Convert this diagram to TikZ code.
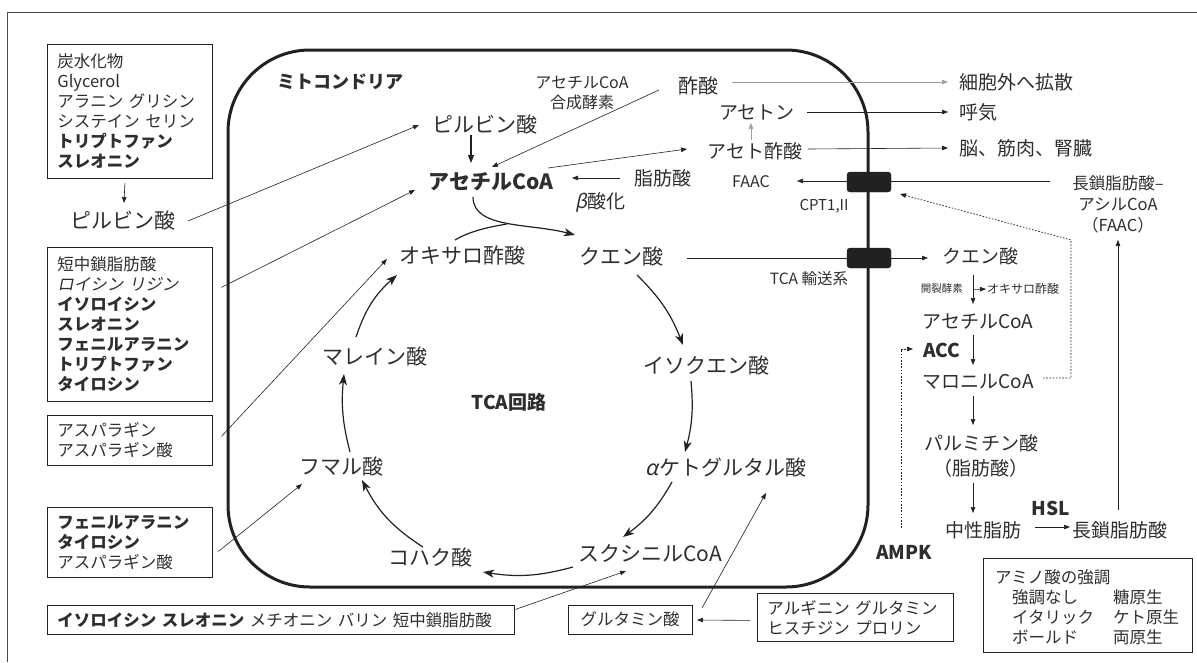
\documentclass[tikz,border=0pt]{standalone}
\usepackage{fontspec}
\setmainfont{Noto Sans CJK JP}[ItalicFont={Noto Sans CJK JP}, ItalicFeatures={FakeSlant=0.2}]
\usetikzlibrary{arrows.meta}
\definecolor{tx}{gray}{0.18}
\definecolor{ln}{gray}{0.13}
\definecolor{lg}{gray}{0.62}
\newcommand{\myfs}[2]{\fontsize{#1}{#2}\selectfont}
\tikzset{
  lbl/.style={inner sep=0pt, text=tx},
  big/.style={lbl, font=\myfs{21}{25}},
  mid/.style={lbl, font=\myfs{19}{23}},
  bmid/.style={lbl, font=\myfs{19}{23}\bfseries},
  sml/.style={lbl, font=\myfs{16}{20}},
  boxtext/.style={draw=ln, line width=0.8pt, text=tx, align=left, inner xsep=10pt, inner ysep=0pt, font=\myfs{16.5}{20}},
  thinarr/.style={draw=ln, line width=0.6pt, -{Triangle[length=6pt,width=4.5pt]}},
  medarr/.style={draw=ln, line width=1.1pt, -{Triangle[length=8pt,width=6pt]}},
  plainline/.style={draw=ln, line width=0.6pt},
  cyc/.style={draw=ln, line width=1.2pt, -{Stealth[length=11pt,width=8pt,inset=3pt]}},
  dotline/.style={draw=ln, line width=0.7pt, dash pattern=on 1.6pt off 1.6pt},
  membrane/.style={draw=ln, line width=3pt, rounded corners=82pt},
  transporter/.style={fill=ln, draw=ln, rounded corners=3pt, minimum width=44pt, minimum height=20pt, inner sep=0pt}
}
\begin{document}
\begin{tikzpicture}[x=1pt,y=-1pt]
\useasboundingbox (0,0) rectangle (1197,662);
% frame
\draw[draw=black!70, line width=0.8pt] (7,662) -- (7,12) -- (1197,12);
% membrane
\draw[membrane] (228,50) rectangle (868,587);
\node[transporter] (t1) at (869,182) {};
\node[transporter] (t2) at (869,258) {};
\node[lbl, font=\myfs{18}{22}\bfseries, anchor=west] (mito) at (277,82) {ミトコンドリア};

% left boxes
\node[boxtext, text width=145pt, minimum height=134pt, anchor=north west] (b1) at (47,44)
  {炭水化物\\Glycerol\\アラニン グリシン\\システイン セリン\\\textbf{トリプトファン}\\\textbf{スレオニン}};
\node[big] (lpyr) at (123,220) {ピルビン酸};
\node[boxtext, text width=145pt, minimum height=154pt, anchor=north west] (b2) at (47,247)
  {短中鎖脂肪酸\\\textit{ロイシン リジン}\\\textbf{イソロイシン}\\\textbf{スレオニン}\\\textbf{フェニルアラニン}\\\textbf{トリプトファン}\\\textbf{タイロシン}};
\node[boxtext, text width=145pt, minimum height=50pt, anchor=north west] (b3) at (47,415)
  {アスパラギン\\アスパラギン酸};
\node[boxtext, text width=145pt, minimum height=70pt, anchor=north west] (b4) at (47,507)
  {\textbf{フェニルアラニン}\\\textbf{タイロシン}\\アスパラギン酸};
\node[boxtext, text width=447pt, minimum height=29pt, anchor=north west] (b5) at (47,605)
  {\textbf{イソロイシン スレオニン} メチオニン バリン 短中鎖脂肪酸};
\node[boxtext, align=center, inner xsep=0pt, minimum width=124pt, minimum height=29pt] (glu) at (630,619.5) {グルタミン酸};
\node[boxtext, text width=176pt, minimum height=48pt, anchor=north west] (arg) at (757,593)
  {アルギニン グルタミン\\ヒスチジン プロリン};

% legend
\node[draw=ln, line width=0.8pt, minimum width=209pt, minimum height=94pt, anchor=north west, inner sep=0pt] (leg) at (983,558) {};
\node[lbl, font=\myfs{16.5}{20}, anchor=west] (lg0) at (995,577) {アミノ酸の強調};
\node[lbl, font=\myfs{16.5}{20}, anchor=west] (lg1) at (1012,597) {強調なし};
\node[lbl, font=\myfs{16.5}{20}, anchor=west] (lg2) at (1012,617) {イタリック};
\node[lbl, font=\myfs{16.5}{20}, anchor=west] (lg3) at (1012,637) {ボールド};
\node[lbl, font=\myfs{16.5}{20}, anchor=west] (lg4) at (1113,597) {糖原生};
\node[lbl, font=\myfs{16.5}{20}, anchor=west] (lg5) at (1113,617) {ケト原生};
\node[lbl, font=\myfs{16.5}{20}, anchor=west] (lg6) at (1113,637) {両原生};

% top area
\node[big] (pyr) at (485,124) {ピルビン酸};
\node[lbl, font=\myfs{21}{25}\bfseries] (acoa) at (491,182) {アセチルCoA};
\node[sml, align=center] (acsyn) at (582,93) {アセチルCoA\\合成酵素};
\node[lbl, font=\myfs{20}{24}] (acetic) at (698,86) {酢酸};
\node[mid] (acetone) at (757,112) {アセトン};
\node[mid] (acetoac) at (755,151) {アセト酢酸};
\node[mid] (fa) at (663,178) {脂肪酸};
\node[mid] (beta) at (600,202) {\textit{β}酸化};
\node[sml] (faac) at (751,182) {FAAC};
\node[lbl, font=\myfs{15}{18}] (cpt) at (824,206) {CPT1,II};
\node[lbl, font=\myfs{15.5}{18}] (tcatr) at (809,279) {TCA 輸送系};
\node[mid, anchor=west] (ext) at (959,82) {細胞外へ拡散};
\node[mid, anchor=west] (breath) at (959,112) {呼気};
\node[mid, anchor=west] (brain) at (959,148) {脳、筋肉、腎臓};
\node[lbl, font=\myfs{16.5}{21}, align=center] (lcfaacyl) at (1118,204) {長鎖脂肪酸–\\アシルCoA\\（FAAC）};

% right column
\node[mid] (ocit) at (980,256) {クエン酸};
\node[lbl, font=\myfs{10.5}{12}, anchor=east] (cleave) at (963,289) {開裂酵素};
\node[lbl, font=\myfs{12}{14}, anchor=west] (soxa) at (987,289) {オキサロ酢酸};
\node[mid] (oacoa) at (978,322) {アセチルCoA};
\node[bmid] (acc) at (942,350) {ACC};
\node[mid] (malonyl) at (978,382) {マロニルCoA};
\node[mid] (palm) at (981,443) {パルミチン酸};
\node[mid] (palmfa) at (981,468) {（脂肪酸）};
\node[mid] (tg) at (983,530) {中性脂肪};
\node[bmid] (hsl) at (1051,508) {HSL};
\node[mid] (lcfa) at (1120,530) {長鎖脂肪酸};
\node[bmid] (ampk) at (904,552) {AMPK};

% TCA cycle
\node[big] (oxa) at (462,256) {オキサロ酢酸};
\node[big] (cit) at (621,256) {クエン酸};
\node[big] (iso) at (706,365) {イソクエン酸};
\node[big] (akg) at (726,467) {\textit{α}ケトグルタル酸};
\node[big] (suc) at (650,553) {スクシニルCoA};
\node[big] (koh) at (430,557) {コハク酸};
\node[big] (fum) at (341,466) {フマル酸};
\node[big] (mal) at (375,356) {マレイン酸};
\node[bmid] (tca) at (509,402) {TCA回路};

% cycle arrows
\draw[cyc] ([shift={(-19,-19)}]mal.center) to[bend left=15] ([shift={(-65,19)}]oxa.center);
\draw[cyc] ([shift={(9,-14)}]fum.center) to[bend left=10] ([shift={(-31,18)}]mal.center);
\draw[cyc] ([shift={(-7,-10)}]koh.center) to[bend left=15] ([shift={(21,14)}]fum.center);
\draw[cyc] ([shift={(-77,14)}]suc.center) to[bend left=12] ([shift={(53,15)}]koh.center);
\draw[cyc] ([shift={(-54,15)}]akg.center) to[bend left=12] ([shift={(-27,-16)}]suc.center);
\draw[cyc] ([shift={(-15,16)}]iso.center) to[bend left=10] ([shift={(-41,-15)}]akg.center);
\draw[cyc] ([shift={(16,19)}]cit.center) to[bend left=12] ([shift={(-23,-20)}]iso.center);
\coordinate (merge) at (507,224);
\draw[cyc] ([shift={(-18,15)}]acoa.center) .. controls +(0,32) and +(-45,-12) .. ([shift={(-46,-21)}]cit.center);
\draw[draw=ln, line width=1.2pt] ([shift={(-7,-16)}]oxa.center) .. controls +(15,-9) and +(-18,3) .. (merge);

% left arrows
\draw[thinarr] ([shift={(-5,4)}]b1.south) -- ([shift={(1,-17)}]lpyr.center);
\draw[thinarr] ([shift={(65,1)}]lpyr.center) -- ([shift={(-66,1)}]pyr.center);
\draw[thinarr] ([shift={(91.5,-37)}]b2.center) -- ([shift={(-76,8)}]acoa.center);
\draw[thinarr] ([shift={(91.5,-4)}]b3.center) -- ([shift={(-75,3)}]oxa.center);
\draw[thinarr] ([shift={(88.5,9)}]b4.center) -- ([shift={(-39,18)}]fum.center);
\draw[thinarr] ([shift={(234.5,-10.5)}]b5.center) -- ([shift={(-24,18)}]suc.center);
\draw[thinarr] ([shift={(72,-11.5)}]glu.center) -- ([shift={(40,26)}]akg.center);
\draw[thinarr] ([shift={(-105,3)}]arg.center) -- ([shift={(67,0.5)}]glu.center);

% top arrows
\draw[medarr] ([shift={(-14,11)}]pyr.center) -- ([shift={(-20,-19)}]acoa.center);
\draw[thinarr] ([shift={(-39,4)}]acetic.center) -- ([shift={(1,-15)}]acoa.center);
\draw[thinarr] ([shift={(57,-14)}]acoa.center) -- ([shift={(-68,-2)}]acetoac.center);
\draw[thinarr] ([shift={(-43,0)}]fa.center) -- ([shift={(81,-4)}]acoa.center);
\draw[thinarr, draw=lg] ([shift={(-4,-11)}]acetoac.center) -- ([shift={(-6,11)}]acetone.center);
\draw[thinarr, draw=lg] ([shift={(34,-4)}]acetic.center) -- ([shift={(-11,0)}]ext.west);
\draw[thinarr] ([shift={(50,0)}]acetone.center) -- ([shift={(-11,0)}]breath.west);
\draw[thinarr] ([shift={(53,-2)}]acetoac.center) -- ([shift={(-11,0)}]brain.west);
\draw[thinarr] ([shift={(-68,-23)}]lcfaacyl.center) -- ([shift={(46,-1)}]faac.center);
\draw[thinarr] ([shift={(66,2)}]cit.center) -- ([shift={(-52,2)}]ocit.center);

% right column arrows
\draw[thinarr] ([shift={(-7,19)}]ocit.center) -- coordinate[pos=0.5] (brk) ([shift={(-5,-18)}]oacoa.center);
\draw[thinarr] (brk) -- ([shift={(-1,0)}]soxa.west);
\draw[thinarr] ([shift={(-5,13)}]oacoa.center) -- ([shift={(-5,-17)}]malonyl.center);
\draw[thinarr] ([shift={(-5,14)}]malonyl.center) -- ([shift={(-8,-18)}]palm.center);
\draw[thinarr] ([shift={(-8,15)}]palmfa.center) -- ([shift={(-10,-17)}]tg.center);
\draw[thinarr] ([shift={(52,-3)}]tg.center) -- ([shift={(-50,-3)}]lcfa.center);
\draw[thinarr] ([shift={(-2,-20)}]lcfa.center) -- ([shift={(0,36)}]lcfaacyl.center);
\draw[dotline, -{Triangle[length=6pt,width=4.5pt]}] ([shift={(65,-4)}]malonyl.center) -- ++(28,0) -- ++(0,-138) -- ([shift={(31,12)}]t1.center);
\draw[dotline, -{Triangle[length=6pt,width=4.5pt]}] ([shift={(-3,-24)}]ampk.center) |- ([shift={(-29,-1)}]acc.center);
\end{tikzpicture}
\end{document}
